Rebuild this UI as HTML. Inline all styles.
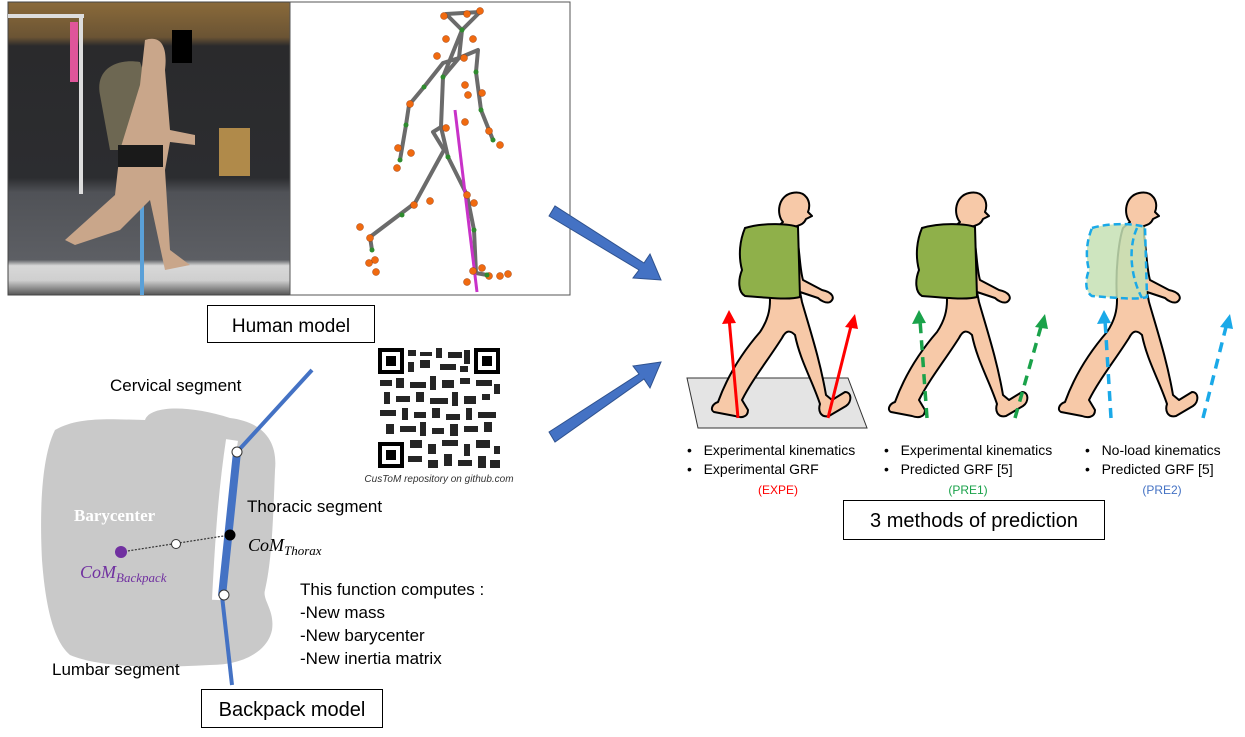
<!DOCTYPE html>
<html><head><meta charset="utf-8"><style>
body{margin:0;width:1245px;height:732px;background:#fff;overflow:hidden;font-family:"Liberation Sans",sans-serif}
</style></head><body>
<svg width="1245" height="732" viewBox="0 0 1245 732" xmlns="http://www.w3.org/2000/svg" font-family="Liberation Sans, sans-serif">
<defs>
<linearGradient id="ph" x1="0" y1="0" x2="0" y2="1">
<stop offset="0" stop-color="#8a6a3a"/><stop offset="0.12" stop-color="#6b5434"/><stop offset="0.15" stop-color="#2a2a2c"/><stop offset="0.6" stop-color="#2c2d30"/><stop offset="0.65" stop-color="#505257"/><stop offset="0.88" stop-color="#5d5f64"/><stop offset="0.9" stop-color="#d8d8d8"/><stop offset="0.95" stop-color="#cfcfcf"/><stop offset="1" stop-color="#555"/>
</linearGradient>
<g id="walker">
<path d="M783 222 C776 214 778 196 792 193 C806 190 812 202 808 212 L812 216 L806 219 C804 224 800 225 797 226 L797 236 C800 255 800 270 803 280 L822 290 C832 292 836 298 830 302 C826 304 820 300 818 298 L800 292 L802 302 C810 330 820 360 826 395 L832 400 L845 392 C852 392 852 402 846 406 L829 416 C820 418 818 410 820 404 C812 380 800 360 795 335 C790 330 786 330 782 338 C768 360 752 380 742 400 L748 410 C748 418 740 418 735 416 L714 412 C710 410 712 404 718 402 C726 380 740 355 760 332 C768 320 770 310 770 300 C768 270 772 240 776 228 Z" fill="#f7c9a8" stroke="#000" stroke-width="2" stroke-linejoin="round"/>
</g>
</defs>
<!-- photo -->
<rect x="8" y="2" width="282" height="293" fill="url(#ph)" stroke="#444"/>
<rect x="8" y="14" width="76" height="4" fill="#ddd"/>
<rect x="79" y="14" width="4" height="180" fill="#ddd"/>
<rect x="70" y="22" width="8" height="60" fill="#e0559a"/>
<rect x="219" y="128" width="31" height="48" fill="#b08a4a"/>
<rect x="140" y="200" width="4" height="95" fill="#5aa0d8"/>
<path d="M100 95 C95 70 115 58 140 62 L150 90 L140 150 L110 150 Z" fill="#6d6752"/>
<path d="M145 40 C160 35 168 45 165 70 L170 130 L195 135 L195 145 L170 142 L165 170 L170 250 L190 265 L165 270 L150 200 L120 230 L75 245 L65 240 L115 195 L120 150 L140 85 Z" fill="#c9a68a"/>
<rect x="118" y="145" width="45" height="22" fill="#1a1a1a"/>
<rect x="172" y="30" width="20" height="33" fill="#000"/>
<!-- skeleton panel -->
<rect x="290" y="2" width="280" height="293" fill="#fff" stroke="#555"/>
<g stroke="#6b6b6b" stroke-width="4" fill="none" stroke-linejoin="round" stroke-linecap="round">
<path d="M446 14 L480 12 L462 30 Z"/>
<path d="M462 30 L459 58 L443 77 L441 127 L433 132 L444 150 L415 203 L370 237 L372 250"/>
<path d="M459 58 L478 50 L476 72 L481 110 L493 140"/>
<path d="M459 58 L443 63 L424 87 L409 105 L406 125 L400 160"/>
<path d="M441 127 L448 157 L467 195 L474 230 L476 273 L487 275"/>
<path d="M462 30 L443 77"/>
</g>
<line x1="455" y1="110" x2="477" y2="292" stroke="#c832c8" stroke-width="3"/>
<g fill="#f06a10" stroke="#a04010" stroke-width="0.5">
<circle cx="444" cy="16" r="3.5"/><circle cx="467" cy="14" r="3.5"/><circle cx="480" cy="11" r="3.5"/><circle cx="446" cy="39" r="3.5"/><circle cx="473" cy="39" r="3.5"/><circle cx="437" cy="56" r="3.5"/><circle cx="464" cy="58" r="3.5"/><circle cx="465" cy="85" r="3.5"/><circle cx="468" cy="95" r="3.5"/><circle cx="482" cy="93" r="3.5"/><circle cx="410" cy="104" r="3.5"/><circle cx="465" cy="122" r="3.5"/><circle cx="446" cy="128" r="3.5"/><circle cx="489" cy="131" r="3.5"/><circle cx="500" cy="145" r="3.5"/><circle cx="398" cy="148" r="3.5"/><circle cx="411" cy="153" r="3.5"/><circle cx="397" cy="168" r="3.5"/><circle cx="430" cy="201" r="3.5"/><circle cx="414" cy="205" r="3.5"/><circle cx="467" cy="195" r="3.5"/><circle cx="474" cy="203" r="3.5"/><circle cx="360" cy="227" r="3.5"/><circle cx="370" cy="238" r="3.5"/><circle cx="375" cy="260" r="3.5"/><circle cx="369" cy="263" r="3.5"/><circle cx="376" cy="272" r="3.5"/><circle cx="473" cy="271" r="3.5"/><circle cx="482" cy="268" r="3.5"/><circle cx="489" cy="276" r="3.5"/><circle cx="500" cy="276" r="3.5"/><circle cx="508" cy="274" r="3.5"/><circle cx="467" cy="282" r="3.5"/>
</g>
<g fill="#2e8b2e"><circle cx="462" cy="30" r="2.5"/><circle cx="443" cy="77" r="2.5"/><circle cx="424" cy="87" r="2.5"/><circle cx="406" cy="125" r="2.5"/><circle cx="476" cy="72" r="2.5"/><circle cx="481" cy="110" r="2.5"/><circle cx="493" cy="140" r="2.5"/><circle cx="448" cy="157" r="2.5"/><circle cx="400" cy="160" r="2.5"/><circle cx="402" cy="215" r="2.5"/><circle cx="372" cy="250" r="2.5"/><circle cx="474" cy="230" r="2.5"/><circle cx="487" cy="275" r="2.5"/></g>
<!-- Human model box -->
<rect x="207.5" y="305.5" width="167" height="37" fill="#fff" stroke="#000"/>
<text x="291" y="332" font-size="19" text-anchor="middle">Human model</text>
<!-- QR -->
<rect x="378" y="348" width="122" height="120" fill="#fff"/>
<g fill="#000">
<rect x="378" y="348" width="26" height="26"/><rect x="474" y="348" width="26" height="26"/><rect x="378" y="442" width="26" height="26"/>
</g>
<g fill="#fff"><rect x="382" y="352" width="18" height="18"/><rect x="478" y="352" width="18" height="18"/><rect x="382" y="446" width="18" height="18"/></g>
<g fill="#000"><rect x="386" y="356" width="10" height="10"/><rect x="482" y="356" width="10" height="10"/><rect x="386" y="450" width="10" height="10"/></g>
<g fill="#000" opacity="0.85">
<rect x="408" y="350" width="8" height="6"/><rect x="420" y="352" width="12" height="4"/><rect x="436" y="348" width="6" height="10"/><rect x="448" y="352" width="14" height="6"/><rect x="464" y="350" width="6" height="14"/>
<rect x="408" y="362" width="6" height="10"/><rect x="420" y="360" width="10" height="8"/><rect x="440" y="364" width="16" height="6"/><rect x="460" y="366" width="8" height="6"/>
<rect x="380" y="380" width="12" height="6"/><rect x="396" y="378" width="8" height="10"/><rect x="410" y="382" width="16" height="6"/><rect x="430" y="376" width="6" height="14"/><rect x="442" y="380" width="12" height="8"/><rect x="460" y="378" width="10" height="6"/><rect x="476" y="380" width="16" height="6"/><rect x="494" y="384" width="6" height="10"/>
<rect x="384" y="392" width="6" height="12"/><rect x="396" y="396" width="14" height="6"/><rect x="416" y="392" width="8" height="10"/><rect x="430" y="398" width="18" height="6"/><rect x="452" y="392" width="6" height="14"/><rect x="464" y="396" width="12" height="8"/><rect x="482" y="394" width="8" height="6"/>
<rect x="380" y="410" width="16" height="6"/><rect x="402" y="408" width="6" height="12"/><rect x="414" y="412" width="12" height="6"/><rect x="432" y="408" width="8" height="10"/><rect x="446" y="414" width="14" height="6"/><rect x="466" y="408" width="6" height="12"/><rect x="478" y="412" width="18" height="6"/>
<rect x="386" y="424" width="8" height="10"/><rect x="400" y="426" width="16" height="6"/><rect x="420" y="422" width="6" height="14"/><rect x="432" y="428" width="12" height="6"/><rect x="450" y="424" width="8" height="12"/><rect x="464" y="426" width="14" height="6"/><rect x="484" y="422" width="8" height="10"/>
<rect x="410" y="440" width="12" height="8"/><rect x="428" y="444" width="8" height="10"/><rect x="442" y="440" width="16" height="6"/><rect x="464" y="444" width="6" height="12"/><rect x="476" y="440" width="14" height="8"/><rect x="494" y="446" width="6" height="8"/>
<rect x="408" y="456" width="14" height="6"/><rect x="428" y="460" width="10" height="8"/><rect x="444" y="454" width="8" height="12"/><rect x="458" y="460" width="14" height="6"/><rect x="478" y="456" width="8" height="12"/><rect x="490" y="460" width="10" height="8"/>
</g>
<text x="439" y="482" font-size="10" font-style="italic" text-anchor="middle" fill="#333">CusToM repository on github.com</text>
<!-- backpack blob -->
<path d="M55 430 C80 415 120 420 145 420 C150 405 190 405 230 418 C262 422 278 440 275 470 C273 520 272 560 265 590 C262 600 275 610 272 630 C268 650 245 665 210 665 C160 668 100 668 70 655 C52 640 45 600 42 560 C40 520 40 460 55 430 Z" fill="#c9c9c9"/>
<path d="M232 440 C226 480 222 520 218 600" stroke="#fff" stroke-width="12" fill="none"/>
<polyline points="312,370 237,452" stroke="#4472c4" stroke-width="4" fill="none"/>
<polyline points="237,452 222,596" stroke="#4472c4" stroke-width="8" fill="none"/>
<polyline points="222,596 232,685" stroke="#4472c4" stroke-width="4" fill="none"/>
<line x1="121" y1="552" x2="230" y2="535" stroke="#333" stroke-width="1.2" stroke-dasharray="2,1.5"/>
<circle cx="237" cy="452" r="5" fill="#fff" stroke="#333"/>
<circle cx="224" cy="595" r="5" fill="#fff" stroke="#333"/>
<circle cx="176" cy="544" r="4.5" fill="#fff" stroke="#333"/>
<circle cx="230" cy="535" r="5.5" fill="#000"/>
<circle cx="121" cy="552" r="6" fill="#7030a0"/>
<text x="74" y="521" font-size="17" font-weight="bold" font-family="Liberation Serif, serif" fill="#fff">Barycenter</text>
<text x="80" y="578" font-size="18" font-style="italic" font-family="Liberation Serif, serif" fill="#7030a0">CoM<tspan font-size="13" dy="4">Backpack</tspan></text>
<text x="248" y="551" font-size="18" font-style="italic" font-family="Liberation Serif, serif">CoM<tspan font-size="13" dy="4">Thorax</tspan></text>
<text x="110" y="391" font-size="17">Cervical segment</text>
<text x="247" y="512" font-size="17">Thoracic segment</text>
<text x="52" y="675" font-size="17">Lumbar segment</text>
<text x="300" y="595" font-size="17">This function computes :</text>
<text x="300" y="618" font-size="17">-New mass</text>
<text x="300" y="641" font-size="17">-New barycenter</text>
<text x="300" y="664" font-size="17">-New inertia matrix</text>
<rect x="201.5" y="689.5" width="181" height="38" fill="#fff" stroke="#000"/>
<text x="292" y="716" font-size="20" text-anchor="middle">Backpack model</text>
<!-- big arrows -->
<g fill="#4472c4" stroke="#2f528f" stroke-width="1">
<path d="M549 216 L555 206 L644 263 L650 254 L661 280 L633 278 L639 270 Z"/>
<path d="M549 432 L555 442 L644 379 L650 388 L661 362 L633 366 L639 374 Z"/>
</g>
<!-- force plate -->
<path d="M687 378 L848 378 L867 428 L698 428 Z" fill="#e4e4e4" stroke="#333" stroke-width="1"/>
<!-- figure 1 -->
<use href="#walker"/>
<path d="M745 228 C765 222 790 224 798 227 L800 297 C790 300 770 298 745 296 C738 292 738 280 742 270 C738 255 740 240 745 228 Z" fill="#8fb04a" stroke="#000" stroke-width="2"/>
<g stroke="#f00" stroke-width="3"><line x1="738" y1="418" x2="729" y2="318"/><line x1="828" y1="418" x2="852" y2="322"/></g>
<g fill="#f00"><path d="M729 310 L722 324 L736 323 Z"/><path d="M855 314 L845 327 L858 329 Z"/></g>
<!-- figure 2 -->
<g transform="translate(177,0)">
<use href="#walker"/>
<path d="M745 228 C765 222 790 224 798 227 L800 297 C790 300 770 298 745 296 C738 292 738 280 742 270 C738 255 740 240 745 228 Z" fill="#8fb04a" stroke="#000" stroke-width="2"/>
<g stroke="#1aa24a" stroke-width="3.5" stroke-dasharray="10,7"><line x1="750" y1="418" x2="743" y2="320"/><line x1="838" y1="418" x2="865" y2="323"/></g>
<g fill="#1aa24a"><path d="M742 310 L735 324 L749 323 Z"/><path d="M868 314 L858 327 L871 329 Z"/></g>
</g>
<!-- figure 3 -->
<g transform="translate(347,0)">
<use href="#walker"/>
<path d="M745 228 C765 222 790 224 798 227 L800 297 C790 300 770 298 745 296 C738 292 738 280 742 270 C738 255 740 240 745 228 Z" fill="#c5e0b4" fill-opacity="0.85" stroke="#1aa9e8" stroke-width="2.5" stroke-dasharray="7,4"/>
<path d="M790 228 C780 250 785 280 795 298" fill="none" stroke="#1aa9e8" stroke-width="2.5" stroke-dasharray="7,4"/>
<g stroke="#1aa9e8" stroke-width="3.5" stroke-dasharray="10,7"><line x1="764" y1="418" x2="758" y2="320"/><line x1="856" y1="418" x2="880" y2="323"/></g>
<g fill="#1aa9e8"><path d="M757 310 L750 324 L764 323 Z"/><path d="M883 314 L873 327 L886 329 Z"/></g>
</g>
<!-- captions -->
<g font-size="14">
<text x="687" y="455">•&#160;&#160; Experimental kinematics</text>
<text x="687" y="474">•&#160;&#160; Experimental GRF</text>
<text x="778" y="494" font-size="12" fill="#f00" text-anchor="middle">(EXPE)</text>
<text x="884" y="455">•&#160;&#160; Experimental kinematics</text>
<text x="884" y="474">•&#160;&#160; Predicted GRF [5]</text>
<text x="968" y="494" font-size="12" fill="#1aa24a" text-anchor="middle">(PRE1)</text>
<text x="1085" y="455">•&#160;&#160; No-load kinematics</text>
<text x="1085" y="474">•&#160;&#160; Predicted GRF [5]</text>
<text x="1162" y="494" font-size="12" fill="#4472c4" text-anchor="middle">(PRE2)</text>
</g>
<rect x="843.5" y="500.5" width="261" height="39" fill="#fff" stroke="#000"/>
<text x="974" y="527" font-size="20" text-anchor="middle">3 methods of prediction</text>
</svg>
</body></html>
